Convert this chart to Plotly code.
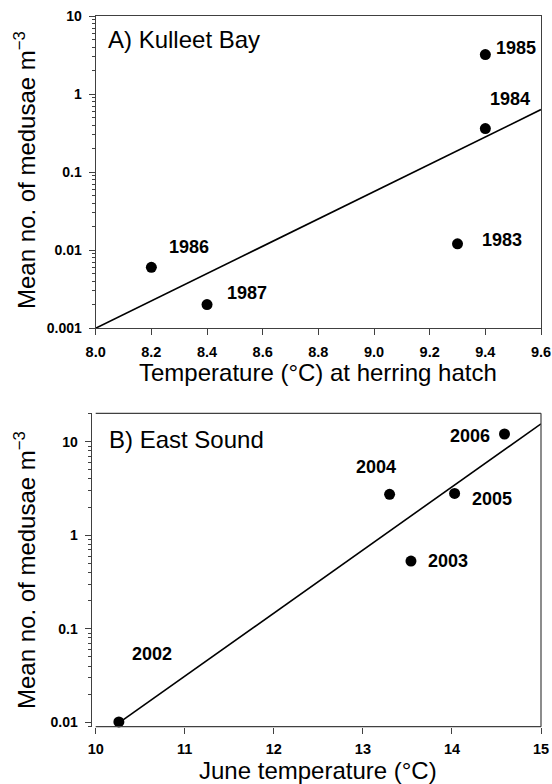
import numpy as np
import plotly.graph_objects as go

# ---------------- data ----------------
# Panel A: Kulleet Bay
a_years = ["1983", "1984", "1985", "1986", "1987"]
a_temp = [9.3, 9.4, 9.4, 8.2, 8.4]
a_medusae = [0.012, 0.36, 3.2, 0.006, 0.002]

# Panel B: East Sound
b_years = ["2002", "2003", "2004", "2005", "2006"]
b_temp = [10.26, 13.54, 13.30, 14.03, 14.59]
b_medusae = [0.0101, 0.53, 2.74, 2.8, 12.1]

a_xticks = [8.0, 8.2, 8.4, 8.6, 8.8, 9.0, 9.2, 9.4, 9.6]
a_yticks = [0.001, 0.01, 0.1, 1, 10]
a_yticktext = ["0.001", "0.01", "0.1", "1", "10"]
b_xticks = [10, 11, 12, 13, 14, 15]
b_yticks = [0.01, 0.1, 1, 10]
b_yticktext = ["0.01", "0.1", "1", "10"]

# label offsets (px, right / down) - style only
a_label_off = {"1983": (44, -4), "1984": (25, -30), "1985": (31, -7),
               "1986": (38, -20), "1987": (40, -12)}
b_label_off = {"2002": (33, -68), "2003": (37, 0), "2004": (-14, -27),
               "2005": (37, 6), "2006": (-34, 2)}

# ---------------- figure ----------------
W, H = 552, 784
FONT = "Liberation Sans, Arial, Helvetica, sans-serif"
AX = "#404040"

fig = go.Figure()

def px_x(p):
    return p / W

def px_y(p):
    return 1 - p / H

# regression fits (log10 y vs x)
a_fit = np.polyfit(a_temp, np.log10(a_medusae), 1)
b_fit = np.polyfit(b_temp, np.log10(b_medusae), 1)

a_xr = [8.0, 9.6]
a_line_x = np.array(a_xr)
b_line_x = np.array([min(b_temp), 15.0])

fig.add_trace(go.Scatter(x=a_line_x, y=10 ** np.polyval(a_fit, a_line_x),
                         mode="lines", line=dict(color="black", width=1.6),
                         xaxis="x", yaxis="y", showlegend=False, hoverinfo="skip"))
fig.add_trace(go.Scatter(x=a_temp, y=a_medusae, mode="markers",
                         marker=dict(color="black", size=11),
                         xaxis="x", yaxis="y", showlegend=False))
fig.add_trace(go.Scatter(x=b_line_x, y=10 ** np.polyval(b_fit, b_line_x),
                         mode="lines", line=dict(color="black", width=1.6),
                         xaxis="x2", yaxis="y2", showlegend=False, hoverinfo="skip"))
fig.add_trace(go.Scatter(x=b_temp, y=b_medusae, mode="markers",
                         marker=dict(color="black", size=11),
                         xaxis="x2", yaxis="y2", showlegend=False,
                         cliponaxis=False))

tickfont_x = dict(family=FONT, size=14.5, color="black", weight="bold")
tickfont_y = dict(family=FONT, size=14, color="black", weight="bold")
minor = dict(ticks="outside", ticklen=3, tickcolor=AX, dtick="D1", showgrid=False)

common = dict(showgrid=False, zeroline=False, automargin=False, ticks="outside",
              ticklen=6, tickcolor=AX, tickwidth=1)

fig.update_layout(
    template="none",
    width=W, height=H,
    margin=dict(l=0, r=0, t=0, b=0, autoexpand=False),
    paper_bgcolor="white", plot_bgcolor="white",
    font=dict(family=FONT, color="black"),
    showlegend=False,
    xaxis=dict(domain=[px_x(95.7), px_x(541)], range=a_xr, anchor="y",
               tickvals=a_xticks, tickformat=".1f",
               showline=True, linecolor=AX, linewidth=1.2, mirror=True,
               tickfont=tickfont_x, ticklabelstandoff=4, **common),
    yaxis=dict(domain=[px_y(328), px_y(16)], type="log", range=[-3, 1], anchor="x",
               tickvals=a_yticks, ticktext=a_yticktext,
               showline=True, linecolor=AX, linewidth=1.2, mirror=True,
               tickfont=tickfont_y, minor=minor, ticklabelstandoff=4, **common),
    xaxis2=dict(domain=[px_x(91.7), px_x(541)], range=[9.955, 15], anchor="y2",
                tickvals=b_xticks, showline=False,
                tickfont=tickfont_x, ticklabelstandoff=3, **common),
    yaxis2=dict(domain=[px_y(726.7), px_y(413.3)], type="log", range=[-2.047, 1.304],
                anchor="x2", tickvals=b_yticks, ticktext=b_yticktext,
                showline=True, linecolor=AX, linewidth=1.2, mirror=False,
                tickfont=tickfont_y, minor=minor, ticklabelstandoff=4, **common),
)

# panel B frame lines
line_style = dict(color=AX, width=1.2)
fig.add_shape(type="line", xref="x2", yref="y2 domain", x0=10, x1=15, y0=0, y1=0, line=line_style)
fig.add_shape(type="line", xref="x2", yref="y2 domain", x0=10, x1=15, y0=1, y1=1, line=line_style)
fig.add_shape(type="line", xref="x2 domain", yref="y2 domain", x0=1, x1=1, y0=0, y1=1, line=line_style)

ann = []
lab_font = dict(family=FONT, size=18, color="black")
for yr, xv, yv in zip(a_years, a_temp, a_medusae):
    dx, dy = a_label_off[yr]
    ann.append(dict(x=xv, y=np.log10(yv), xref="x", yref="y", text=f"<b>{yr}</b>",
                    showarrow=False, xshift=dx, yshift=-dy, font=lab_font,
                    xanchor="center", yanchor="middle"))
for yr, xv, yv in zip(b_years, b_temp, b_medusae):
    dx, dy = b_label_off[yr]
    ann.append(dict(x=xv, y=np.log10(yv), xref="x2", yref="y2", text=f"<b>{yr}</b>",
                    showarrow=False, xshift=dx, yshift=-dy, font=lab_font,
                    xanchor="center", yanchor="middle"))

big = dict(family=FONT, size=24, color="black")
ytitle = "Mean no. of medusae m<sup>−3</sup>"
ann += [
    dict(x=px_x(106), y=px_y(40), text="A) Kulleet Bay", xanchor="left"),
    dict(x=px_x(107), y=px_y(440), text="B) East Sound", xanchor="left"),
    dict(x=px_x(318), y=px_y(372), text="Temperature (°C) at herring hatch"),
    dict(x=px_x(318), y=px_y(770), text="June temperature (°C)"),
    dict(x=px_x(25), y=px_y(170), text=ytitle, textangle=-90),
    dict(x=px_x(25), y=px_y(570), text=ytitle, textangle=-90),
]
for a in ann[-6:]:
    a.setdefault("xanchor", "center")
    a.update(xref="paper", yref="paper", yanchor="middle", showarrow=False, font=big)
fig.update_layout(annotations=ann)

fig.write_html("out.html")
